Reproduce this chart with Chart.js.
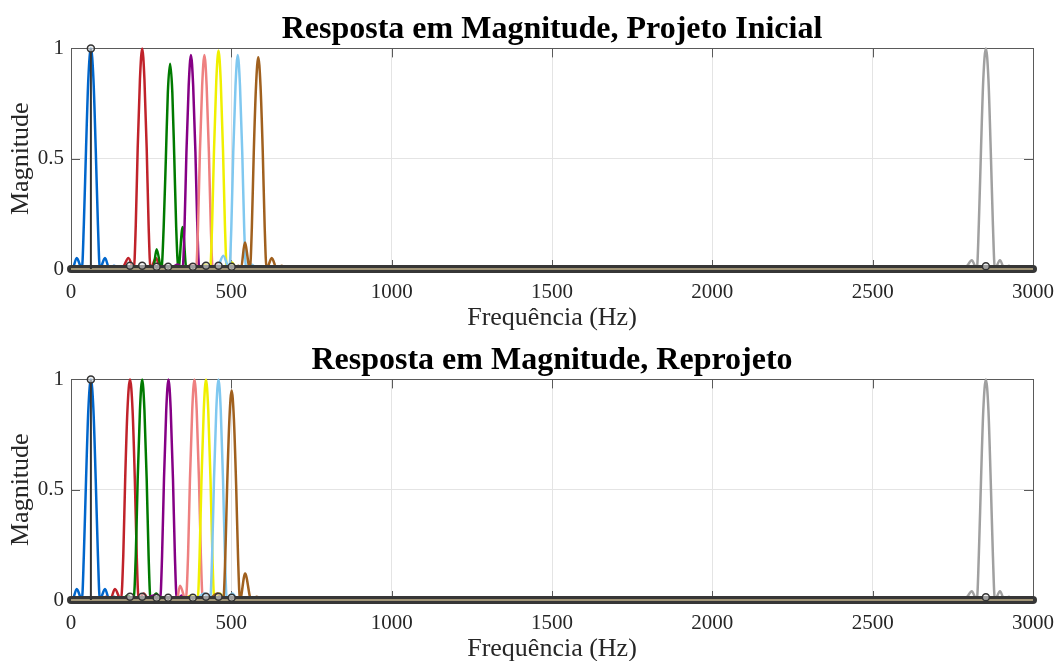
<!DOCTYPE html>
<html>
<head>
<meta charset="utf-8">
<script src="https://cdn.jsdelivr.net/npm/chart.js@4.4.1/dist/chart.umd.min.js"></script>
<style>
body { margin: 0; background: #fff; overflow: hidden; }
.panel { position: absolute; left: 0; width: 1056px; height: 334px; }
</style>
</head>
<body>
<div class="panel" style="top:0"><canvas id="topChart"></canvas></div>
<div class="panel" style="top:331px"><canvas id="bottomChart"></canvas></div>
<script>
// axis ticks
const xTicks = [0, 500, 1000, 1500, 2000, 2500, 3000];
const yTicks = [0, 0.5, 1];

// filter colours, same order in both plots
const filterColors = ['#0066cc', '#c0222a', '#007a00', '#850085', '#ee8080', '#f0f000', '#80c8f0', '#a0601e', '#a0a0a0'];

// magnitude responses, [Hz, |H|]
// --- initial design
const topBlue = [[0,0.01],[4,0],[18,0.05],[34,0],[40,0.2],[47,0.55],[54,0.86],[62,1],[70,0.86],[77,0.55],[84,0.2],[90,0],[106,0.05],[120,0],[134,0.015],[148,0]];
const topRed = [[150,0],[165,0.015],[179,0.05],[196,0],[202,0.2],[208,0.55],[215,0.86],[222,1],[229,0.86],[236,0.55],[242,0.2],[248,0],[265,0.05],[279,0],[292,0.015],[305,0]];
const topGreen = [[235,0],[248,0.015],[256,0],[267,0.09],[282,0],[289,0.19],[296,0.51],[302,0.8],[309,0.93],[316,0.8],[322,0.51],[328,0.19],[335,0],[348,0.19],[360,0],[374,0.015],[388,0]];
const topPurple = [[300,0],[318,0.01],[334,0.02],[348,0],[354,0.19],[360,0.53],[367,0.83],[374,0.97],[381,0.83],[388,0.53],[394,0.19],[400,0],[414,0.02],[428,0]];
const topPink = [[350,0],[362,0.01],[376,0.02],[390,0],[396,0.19],[402,0.53],[409,0.83],[416,0.97],[423,0.83],[430,0.53],[436,0.19],[442,0],[456,0.02],[470,0]];
const topYellow = [[395,0],[420,0.02],[434,0],[440,0.2],[446,0.54],[453,0.85],[460,0.99],[467,0.85],[474,0.54],[480,0.2],[486,0],[502,0.03],[516,0],[530,0.01],[545,0]];
const topLightBlue = [[440,0],[458,0.01],[475,0.06],[494,0],[500,0.19],[506,0.53],[513,0.83],[520,0.97],[527,0.83],[534,0.53],[540,0.19],[546,0],[563,0.02],[578,0]];
const topBrown = [[512,0],[522,0.015],[530,0],[542,0.12],[558,0],[564,0.19],[570,0.53],[577,0.83],[584,0.96],[591,0.83],[598,0.53],[604,0.19],[610,0],[626,0.05],[642,0],[657,0.015],[672,0]];
const topGray = [[2700,0],[2760,0.01],[2780,0],[2795,0.015],[2809,0.04],[2825,0],[2831,0.2],[2838,0.55],[2845,0.86],[2853,1],[2861,0.86],[2868,0.55],[2875,0.2],[2881,0],[2897,0.04],[2911,0],[2925,0.015],[2940,0],[2960,0.01],[3000,0]];
// --- redesign
const botBlue = [[0,0.01],[4,0],[18,0.05],[34,0],[40,0.2],[47,0.55],[54,0.86],[62,1],[70,0.86],[77,0.55],[84,0.2],[90,0],[106,0.05],[120,0],[134,0.015],[148,0]];
const botRed = [[95,0],[110,0.015],[122,0],[137,0.05],[156,0],[163,0.2],[169,0.55],[176,0.86],[184,1],[192,0.86],[199,0.55],[205,0.2],[211,0],[227,0.03],[240,0]];
const botGreen = [[160,0],[177,0.02],[195,0],[202,0.2],[208,0.55],[215,0.86],[222,1],[229,0.86],[236,0.55],[242,0.2],[248,0],[266,0.03],[280,0],[292,0.01],[305,0]];
const botPurple = [[230,0],[258,0.02],[278,0],[284,0.2],[290,0.55],[297,0.86],[304,1],[311,0.86],[318,0.55],[324,0.2],[330,0],[345,0.02],[360,0]];
const botPink = [[315,0],[326,0.01],[330,0],[340,0.065],[358,0],[365,0.2],[371,0.55],[378,0.86],[385,1],[392,0.86],[399,0.55],[405,0.2],[411,0],[427,0.02],[442,0]];
const botYellow = [[350,0],[376,0.02],[395,0],[401,0.2],[407,0.55],[414,0.86],[421,1],[428,0.86],[435,0.55],[441,0.2],[447,0],[464,0.03],[478,0]];
const botLightBlue = [[390,0],[416,0.03],[434,0],[440,0.2],[446,0.55],[453,0.86],[460,1],[467,0.86],[474,0.55],[480,0.2],[486,0],[503,0.03],[518,0]];
const botBrown = [[430,0],[457,0.03],[475,0],[481,0.19],[487,0.52],[494,0.82],[501,0.95],[508,0.82],[515,0.52],[521,0.19],[527,0],[543,0.12],[562,0],[579,0.015],[595,0]];
const botGray = [[2700,0],[2760,0.01],[2780,0],[2795,0.015],[2809,0.04],[2825,0],[2831,0.2],[2838,0.55],[2845,0.86],[2853,1],[2861,0.86],[2868,0.55],[2875,0.2],[2881,0],[2897,0.04],[2911,0],[2925,0.015],[2940,0],[2960,0.01],[3000,0]];

// signal spectrum (stems)
const stemFreqs = [62, 184, 222, 267, 303, 380, 421, 460, 501, 2853];
const stemMags = [1, 0.015, 0.015, 0.01, 0.01, 0.01, 0.015, 0.015, 0.01, 0.012];
// dense stems lying on zero, drawn as a band
const bandRange = [0, 3000];

const topCurves = [topBlue, topRed, topGreen, topPurple, topPink, topYellow, topLightBlue, topBrown, topGray];
const botCurves = [botBlue, botRed, botGreen, botPurple, botPink, botYellow, botLightBlue, botBrown, botGray];

const serif = "'Liberation Serif', 'Times New Roman', serif";

const boxPlugin = {
    id: 'box',
    beforeDatasetsDraw(chart){
        const {ctx, chartArea: a, scales} = chart;
        ctx.save();
        ctx.strokeStyle = '#5a5a5a';
        ctx.lineWidth = 1;
        ctx.strokeRect(Math.round(a.left) + 0.5, Math.round(a.top) + 0.5, Math.round(a.right - a.left), Math.round(a.bottom - a.top));
        ctx.beginPath();
        for(const v of xTicks){
            const px = Math.round(scales.x.getPixelForValue(v)) + 0.5;
            ctx.moveTo(px, a.bottom); ctx.lineTo(px, a.bottom - 9);
            ctx.moveTo(px, a.top); ctx.lineTo(px, a.top + 9);
        }
        for(const v of yTicks){
            const py = Math.round(scales.y.getPixelForValue(v)) + 0.5;
            ctx.moveTo(a.left, py); ctx.lineTo(a.left + 9, py);
            ctx.moveTo(a.right, py); ctx.lineTo(a.right - 9, py);
        }
        ctx.stroke();
        ctx.restore();
    }
};

function toPoints(pairs){
    return pairs.map(p => ({x: p[0], y: p[1]}));
}

function stemPoints(){
    const pts = [];
    for(let i = 0; i < stemFreqs.length; i++){
        pts.push({x: stemFreqs[i], y: 0});
        pts.push({x: stemFreqs[i], y: stemMags[i], top: true});
        pts.push({x: stemFreqs[i], y: null});
    }
    return pts;
}

function buildChart(id, titleText, curves){
    const datasets = [];
    datasets.push({
        data: stemPoints(),
        borderColor: '#333',
        borderWidth: 2,
        spanGaps: false,
        pointRadius: c => (c.raw && c.raw.top) ? 3.5 : 0,
        pointBorderColor: '#333',
        pointBackgroundColor: 'rgba(230,230,230,0.6)',
        pointBorderWidth: 1.5,
        order: 0,
        clip: 10
    });
    datasets.push({
        data: bandRange.map(f => ({x: f, y: 0})),
        borderColor: '#c4b48c',
        borderWidth: 1.5,
        pointRadius: 0,
        order: 1,
        clip: 10
    });
    datasets.push({
        data: bandRange.map(f => ({x: f, y: 0})),
        borderColor: '#363636',
        borderWidth: 8,
        borderCapStyle: 'round',
        pointRadius: 0,
        order: 2,
        clip: 10
    });
    curves.forEach((c, i) => {
        datasets.push({
            data: toPoints(c),
            borderColor: filterColors[i],
            borderWidth: 2.5,
            pointRadius: 0,
            cubicInterpolationMode: 'monotone',
            order: 20 - i,
            clip: 3
        });
    });

    return new Chart(document.getElementById(id).getContext('2d'), {
        type: 'line',
        data: {datasets: datasets},
        options: {
            responsive: true,
            maintainAspectRatio: false,
            animation: false,
            events: [],
            layout: {padding: {left: 0, right: 23, top: 0, bottom: 0}},
            plugins: {
                legend: {display: false},
                tooltip: {enabled: false},
                title: {
                    display: true,
                    fullSize: false,
                    text: titleText,
                    color: '#000',
                    font: {family: serif, size: 32, weight: 'bold'},
                    padding: {top: 11, bottom: -1}
                }
            },
            scales: {
                x: {
                    type: 'linear',
                    min: 0,
                    max: 3000,
                    afterBuildTicks: s => { s.ticks = xTicks.map(v => ({value: v})); },
                    afterFit: s => { s.height = 65; s.paddingLeft = 0; s.paddingRight = 0; },
                    ticks: {color: '#262626', font: {family: serif, size: 21}, padding: 11, maxRotation: 0, callback: v => String(v)},
                    grid: {color: '#e4e4e4', drawTicks: false},
                    border: {display: false},
                    title: {display: true, text: 'Frequência (Hz)', color: '#262626', font: {family: serif, size: 26}, padding: {top: 0, bottom: 0}}
                },
                y: {
                    type: 'linear',
                    min: 0,
                    max: 1,
                    afterBuildTicks: s => { s.ticks = yTicks.map(v => ({value: v})); },
                    afterFit: s => { s.width = 71; },
                    ticks: {color: '#262626', font: {family: serif, size: 21}, padding: 7, callback: v => String(v)},
                    grid: {color: '#e4e4e4', drawTicks: false},
                    border: {display: false},
                    title: {display: true, text: 'Magnitude', color: '#262626', font: {family: serif, size: 26}, padding: {top: 6, bottom: 0}}
                }
            }
        },
        plugins: [boxPlugin]
    });
}

document.addEventListener('DOMContentLoaded', function () {
    buildChart('topChart', 'Resposta em Magnitude, Projeto Inicial', topCurves);
    buildChart('bottomChart', 'Resposta em Magnitude, Reprojeto', botCurves);
});
</script>
</body>
</html>
